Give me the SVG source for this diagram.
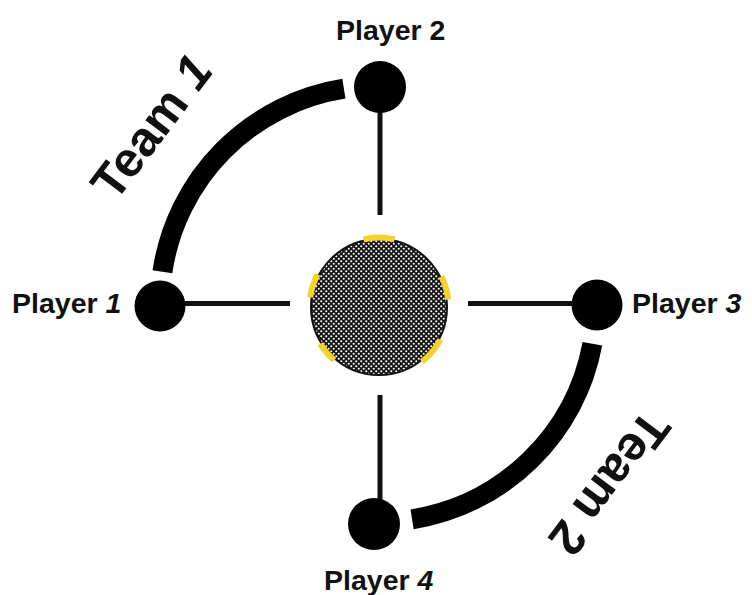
<svg xmlns="http://www.w3.org/2000/svg" width="752" height="595" viewBox="0 0 752 595">
<defs>
<pattern id="dots" patternUnits="userSpaceOnUse" width="5" height="5">
<rect width="5" height="5" fill="#161616"/>
<circle cx="1.25" cy="1.25" r="1.05" fill="#ffffff"/>
<circle cx="3.75" cy="3.75" r="1.05" fill="#ffffff"/>
</pattern>
<style>
.lbl{font-family:"Liberation Sans",Arial,sans-serif;font-weight:bold;font-size:28.5px;fill:#111}
.num{font-style:italic}
.team{font-family:"Liberation Sans",Arial,sans-serif;font-weight:bold;font-size:49px;fill:#111}
.link{stroke:#111;stroke-width:5;fill:none}
.arc{stroke:#000;stroke-width:20;fill:none;stroke-linecap:butt}
.yel{stroke:#f3d22f;stroke-width:6;fill:none}
.player{fill:#000}
</style>
</defs>
<rect width="752" height="595" fill="#ffffff"/>
<g id="connectors">
<line class="link" x1="380" y1="110" x2="380" y2="215"/>
<line class="link" x1="380" y1="395" x2="380" y2="500"/>
<line class="link" x1="184" y1="303.5" x2="290" y2="303.5"/>
<line class="link" x1="468" y1="303.5" x2="574" y2="303.5"/>
<path class="arc" d="M162.4 271.8 A218 218 0 0 1 343.9 88.7"/>
<path class="arc" d="M592.4 343.7 A218 218 0 0 1 412.1 519.3"/>
</g>
<g id="center">
<circle cx="379" cy="307" r="68" fill="url(#dots)" stroke="#111" stroke-width="2"/>
<path class="yel" d="M363.4 239.3 A69.5 69.5 0 0 1 394.6 239.3"/>
<path class="yel" d="M310.2 297.3 A69.5 69.5 0 0 1 317.6 274.4"/>
<path class="yel" d="M334.3 360.2 A69.5 69.5 0 0 1 320.1 343.8"/>
<path class="yel" d="M441.5 276.5 A69.5 69.5 0 0 1 448.1 299.7"/>
<path class="yel" d="M440.4 339.6 A69.5 69.5 0 0 1 421.8 361.8"/>
</g>
<g id="player1">
<circle class="player" cx="160" cy="306" r="25.5"/>
<text class="lbl" x="12" y="313">Player <tspan class="num">1</tspan></text>
</g>
<g id="player2">
<circle class="player" cx="380" cy="87" r="26"/>
<text class="lbl" x="336" y="40">Player 2</text>
</g>
<g id="player3">
<circle class="player" cx="597" cy="305" r="25.5"/>
<text class="lbl" x="632" y="313">Player <tspan class="num">3</tspan></text>
</g>
<g id="player4">
<circle class="player" cx="374" cy="524" r="26"/>
<text class="lbl" x="324" y="590">Player <tspan class="num">4</tspan></text>
</g>
<g id="team1">
<text class="team" text-anchor="middle" transform="translate(165,137) rotate(-53)">Team <tspan class="num">1</tspan></text>
</g>
<g id="team2">
<text class="team" text-anchor="middle" transform="translate(596,473) rotate(127)">Team 2</text>
</g>
</svg>
